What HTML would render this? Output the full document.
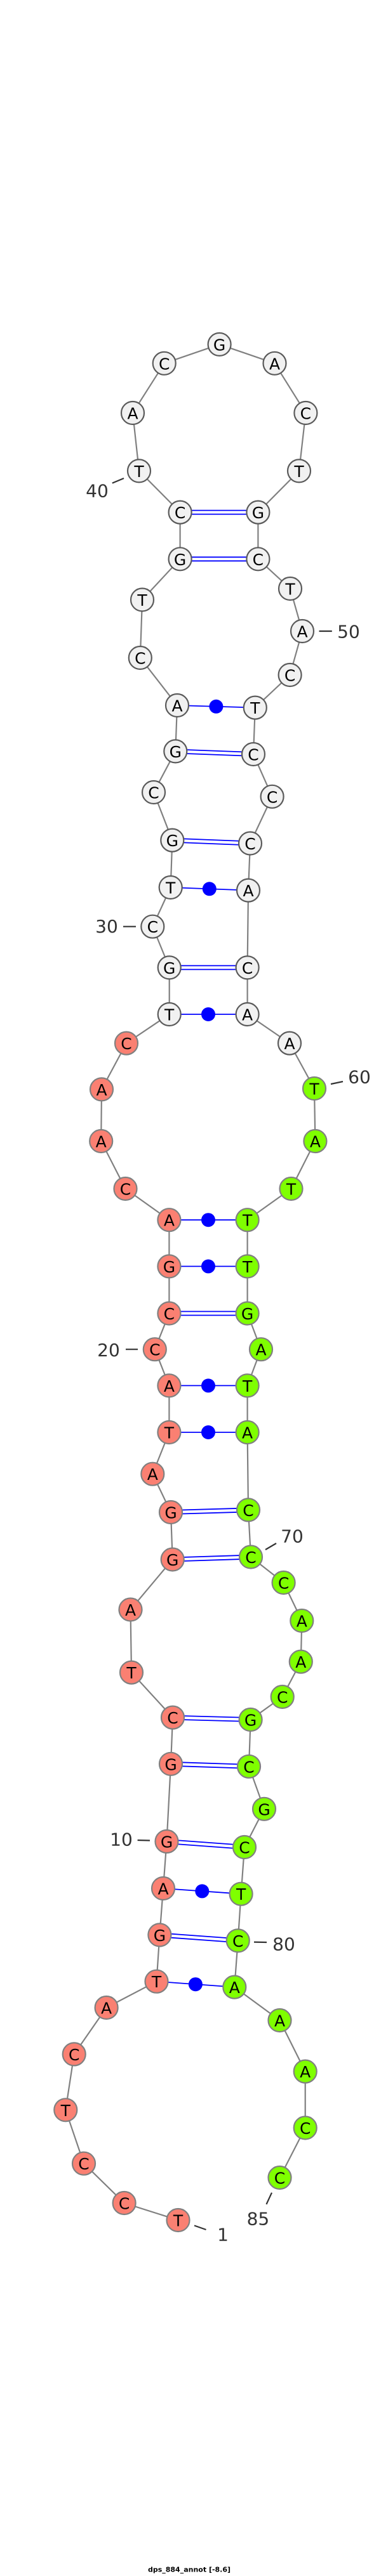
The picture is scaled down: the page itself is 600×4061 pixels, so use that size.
<!DOCTYPE html>
<html><head><meta charset="utf-8"><style>
html,body{margin:0;padding:0;background:#fff;}
svg{display:block;}
.n text{font-family:"DejaVu Sans","Liberation Sans",sans-serif;font-size:25px;text-anchor:middle;dominant-baseline:central;fill:#000;}
.w circle{fill:#f1f1f1;stroke:#5a5a5a;stroke-width:2.2;}
.r circle{fill:#fa8072;stroke:#808080;stroke-width:2.2;}
.g circle{fill:#7fff00;stroke:#808080;stroke-width:2.2;}
.lab{font-family:"DejaVu Sans","Liberation Sans",sans-serif;font-size:28px;fill:#333;text-anchor:middle;dominant-baseline:central;}
.tick{stroke:#333;stroke-width:2.2;}
.p{stroke:#0000ff;stroke-width:1.8;}
</style></head><body>
<svg width="600" height="4061" viewBox="0 0 600 4061" xmlns="http://www.w3.org/2000/svg">
<polyline fill="none" stroke="#808080" stroke-width="2.2" points="280.5,3500 195.6,3473 132,3410.7 103.3,3326.3 116.7,3238.4 167.6,3165 246.5,3123.7 251.4,3050.4 257,2977 262.5,2903 269,2780.8 272,2707.6 207,2636.6 205.5,2537.5 271.7,2458.5 269,2384 240.3,2323.7 266.4,2258 266.4,2184.4 243.8,2127.2 266.4,2070.5 266.4,1996.4 266.4,1923.2 197.5,1874 159.2,1799 160,1717.4 199,1644.6 266.7,1599 266.7,1525.4 240.3,1460.7 268.7,1399 271.3,1324.6 242,1249 276.3,1184.4 279,1112 220.8,1037 224,945.5 283.6,881.3 283.6,807.6 219,742.4 209,651 258.7,572.8 345.6,542.9 432.5,572.8 481.4,651 471,742.4 406.4,807.6 406.4,881.3 457,928 476,995 456.6,1064 401.8,1115.6 399,1189 428.6,1255.8 394,1329.5 391,1403.6 389.6,1525.4 389.6,1599 456,1644.6 495,1716 496.4,1799 458.5,1874 389.6,1923.2 389.6,1996.4 389.6,2070.5 411,2127.2 389.6,2184.4 389.6,2258 391,2380.4 395,2454.5 446.6,2495 475.3,2555 473.8,2619.6 444.7,2675 394.6,2711 392,2784.8 416,2851.8 385,2912 379.6,2985.7 374.7,3059.4 369.3,3132.6 440.5,3185 480.7,3265.6 480.7,3354.5 440.5,3433"/>
<!-- pairs: single with dot -->
<g class="p" fill="#0000ff">
<line x1="246.5" y1="3123.7" x2="369.3" y2="3132.6"/><circle cx="307.9" cy="3128.2" r="11" stroke="none"/>
<line x1="257" y1="2977" x2="379.6" y2="2985.7"/><circle cx="318.3" cy="2981.4" r="11" stroke="none"/>
<line x1="266.4" y1="2258" x2="389.6" y2="2258"/><circle cx="328" cy="2258" r="11" stroke="none"/>
<line x1="266.4" y1="2184.4" x2="389.6" y2="2184.4"/><circle cx="328" cy="2184.4" r="11" stroke="none"/>
<line x1="266.4" y1="1996.4" x2="389.6" y2="1996.4"/><circle cx="328" cy="1996.4" r="11" stroke="none"/>
<line x1="266.4" y1="1923.2" x2="389.6" y2="1923.2"/><circle cx="328" cy="1923.2" r="11" stroke="none"/>
<line x1="266.7" y1="1599" x2="389.6" y2="1599"/><circle cx="328" cy="1599" r="11" stroke="none"/>
<line x1="268.7" y1="1399" x2="391" y2="1403.6"/><circle cx="329.8" cy="1401.3" r="11" stroke="none"/>
<line x1="279" y1="1112" x2="401.8" y2="1115.6"/><circle cx="340.4" cy="1113.8" r="11" stroke="none"/>
</g>
<!-- pairs: double -->
<g class="p">
<line x1="251.4" y1="3047.4" x2="374.7" y2="3056.4"/><line x1="251.4" y1="3053.4" x2="374.7" y2="3062.4"/>
<line x1="262.5" y1="2900" x2="385" y2="2909"/><line x1="262.5" y1="2906" x2="385" y2="2915"/>
<line x1="269" y1="2777.8" x2="392" y2="2781.8"/><line x1="269" y1="2783.8" x2="392" y2="2787.8"/>
<line x1="272" y1="2704.6" x2="394.6" y2="2708"/><line x1="272" y1="2710.6" x2="394.6" y2="2714"/>
<line x1="271.7" y1="2455.5" x2="395" y2="2451.5"/><line x1="271.7" y1="2461.5" x2="395" y2="2457.5"/>
<line x1="269" y1="2381" x2="391" y2="2377.4"/><line x1="269" y1="2387" x2="391" y2="2383.4"/>
<line x1="266.4" y1="2067.5" x2="389.6" y2="2067.5"/><line x1="266.4" y1="2073.5" x2="389.6" y2="2073.5"/>
<line x1="266.7" y1="1522.4" x2="389.6" y2="1522.4"/><line x1="266.7" y1="1528.4" x2="389.6" y2="1528.4"/>
<line x1="271.3" y1="1321.6" x2="394" y2="1326.5"/><line x1="271.3" y1="1327.6" x2="394" y2="1332.5"/>
<line x1="276.3" y1="1181.4" x2="399" y2="1186"/><line x1="276.3" y1="1187.4" x2="399" y2="1192"/>
<line x1="283.6" y1="878.3" x2="406.4" y2="878.3"/><line x1="283.6" y1="884.3" x2="406.4" y2="884.3"/>
<line x1="283.6" y1="804.6" x2="406.4" y2="804.6"/><line x1="283.6" y1="810.6" x2="406.4" y2="810.6"/>
</g>
<!-- nodes -->
<g class="n r">
<g><circle cx="280.5" cy="3500" r="18"/><text x="280.5" y="3501">T</text></g>
<g><circle cx="195.6" cy="3473" r="18"/><text x="195.6" y="3474">C</text></g>
<g><circle cx="132" cy="3410.7" r="18"/><text x="132" y="3411.7">C</text></g>
<g><circle cx="103.3" cy="3326.3" r="18"/><text x="103.3" y="3327.3">T</text></g>
<g><circle cx="116.7" cy="3238.4" r="18"/><text x="116.7" y="3239.4">C</text></g>
<g><circle cx="167.6" cy="3165" r="18"/><text x="167.6" y="3166">A</text></g>
<g><circle cx="246.5" cy="3123.7" r="18"/><text x="246.5" y="3124.7">T</text></g>
<g><circle cx="251.4" cy="3050.4" r="18"/><text x="251.4" y="3051.4">G</text></g>
<g><circle cx="257" cy="2977" r="18"/><text x="257" y="2978">A</text></g>
<g><circle cx="262.5" cy="2903" r="18"/><text x="262.5" y="2904">G</text></g>
<g><circle cx="269" cy="2780.8" r="18"/><text x="269" y="2781.8">G</text></g>
<g><circle cx="272" cy="2707.6" r="18"/><text x="272" y="2708.6">C</text></g>
<g><circle cx="207" cy="2636.6" r="18"/><text x="207" y="2637.6">T</text></g>
<g><circle cx="205.5" cy="2537.5" r="18"/><text x="205.5" y="2538.5">A</text></g>
<g><circle cx="271.7" cy="2458.5" r="18"/><text x="271.7" y="2459.5">G</text></g>
<g><circle cx="269" cy="2384" r="18"/><text x="269" y="2385">G</text></g>
<g><circle cx="240.3" cy="2323.7" r="18"/><text x="240.3" y="2324.7">A</text></g>
<g><circle cx="266.4" cy="2258" r="18"/><text x="266.4" y="2259">T</text></g>
<g><circle cx="266.4" cy="2184.4" r="18"/><text x="266.4" y="2185.4">A</text></g>
<g><circle cx="243.8" cy="2127.2" r="18"/><text x="243.8" y="2128.2">C</text></g>
<g><circle cx="266.4" cy="2070.5" r="18"/><text x="266.4" y="2071.5">C</text></g>
<g><circle cx="266.4" cy="1996.4" r="18"/><text x="266.4" y="1997.4">G</text></g>
<g><circle cx="266.4" cy="1923.2" r="18"/><text x="266.4" y="1924.2">A</text></g>
<g><circle cx="197.5" cy="1874" r="18"/><text x="197.5" y="1875">C</text></g>
<g><circle cx="159.2" cy="1799" r="18"/><text x="159.2" y="1800">A</text></g>
<g><circle cx="160" cy="1717.4" r="18"/><text x="160" y="1718.4">A</text></g>
<g><circle cx="199" cy="1644.6" r="18"/><text x="199" y="1645.6">C</text></g>
</g>
<g class="n w">
<g><circle cx="266.7" cy="1599" r="18"/><text x="266.7" y="1600">T</text></g>
<g><circle cx="266.7" cy="1525.4" r="18"/><text x="266.7" y="1526.4">G</text></g>
<g><circle cx="240.3" cy="1460.7" r="18"/><text x="240.3" y="1461.7">C</text></g>
<g><circle cx="268.7" cy="1399" r="18"/><text x="268.7" y="1400">T</text></g>
<g><circle cx="271.3" cy="1324.6" r="18"/><text x="271.3" y="1325.6">G</text></g>
<g><circle cx="242" cy="1249" r="18"/><text x="242" y="1250">C</text></g>
<g><circle cx="276.3" cy="1184.4" r="18"/><text x="276.3" y="1185.4">G</text></g>
<g><circle cx="279" cy="1112" r="18"/><text x="279" y="1113">A</text></g>
<g><circle cx="220.8" cy="1037" r="18"/><text x="220.8" y="1038">C</text></g>
<g><circle cx="224" cy="945.5" r="18"/><text x="224" y="946.5">T</text></g>
<g><circle cx="283.6" cy="881.3" r="18"/><text x="283.6" y="882.3">G</text></g>
<g><circle cx="283.6" cy="807.6" r="18"/><text x="283.6" y="808.6">C</text></g>
<g><circle cx="219" cy="742.4" r="18"/><text x="219" y="743.4">T</text></g>
<g><circle cx="209" cy="651" r="18"/><text x="209" y="652">A</text></g>
<g><circle cx="258.7" cy="572.8" r="18"/><text x="258.7" y="573.8">C</text></g>
<g><circle cx="345.6" cy="542.9" r="18"/><text x="345.6" y="543.9">G</text></g>
<g><circle cx="432.5" cy="572.8" r="18"/><text x="432.5" y="573.8">A</text></g>
<g><circle cx="481.4" cy="651" r="18"/><text x="481.4" y="652">C</text></g>
<g><circle cx="471" cy="742.4" r="18"/><text x="471" y="743.4">T</text></g>
<g><circle cx="406.4" cy="807.6" r="18"/><text x="406.4" y="808.6">G</text></g>
<g><circle cx="406.4" cy="881.3" r="18"/><text x="406.4" y="882.3">C</text></g>
<g><circle cx="457" cy="928" r="18"/><text x="457" y="929">T</text></g>
<g><circle cx="476" cy="995" r="18"/><text x="476" y="996">A</text></g>
<g><circle cx="456.6" cy="1064" r="18"/><text x="456.6" y="1065">C</text></g>
<g><circle cx="401.8" cy="1115.6" r="18"/><text x="401.8" y="1116.6">T</text></g>
<g><circle cx="399" cy="1189" r="18"/><text x="399" y="1190">C</text></g>
<g><circle cx="428.6" cy="1255.8" r="18"/><text x="428.6" y="1256.8">C</text></g>
<g><circle cx="394" cy="1329.5" r="18"/><text x="394" y="1330.5">C</text></g>
<g><circle cx="391" cy="1403.6" r="18"/><text x="391" y="1404.6">A</text></g>
<g><circle cx="389.6" cy="1525.4" r="18"/><text x="389.6" y="1526.4">C</text></g>
<g><circle cx="389.6" cy="1599" r="18"/><text x="389.6" y="1600">A</text></g>
<g><circle cx="456" cy="1644.6" r="18"/><text x="456" y="1645.6">A</text></g>
</g>
<g class="n g">
<g><circle cx="495" cy="1716" r="18"/><text x="495" y="1717">T</text></g>
<g><circle cx="496.4" cy="1799" r="18"/><text x="496.4" y="1800">A</text></g>
<g><circle cx="458.5" cy="1874" r="18"/><text x="458.5" y="1875">T</text></g>
<g><circle cx="389.6" cy="1923.2" r="18"/><text x="389.6" y="1924.2">T</text></g>
<g><circle cx="389.6" cy="1996.4" r="18"/><text x="389.6" y="1997.4">T</text></g>
<g><circle cx="389.6" cy="2070.5" r="18"/><text x="389.6" y="2071.5">G</text></g>
<g><circle cx="411" cy="2127.2" r="18"/><text x="411" y="2128.2">A</text></g>
<g><circle cx="389.6" cy="2184.4" r="18"/><text x="389.6" y="2185.4">T</text></g>
<g><circle cx="389.6" cy="2258" r="18"/><text x="389.6" y="2259">A</text></g>
<g><circle cx="391" cy="2380.4" r="18"/><text x="391" y="2381.4">C</text></g>
<g><circle cx="395" cy="2454.5" r="18"/><text x="395" y="2455.5">C</text></g>
<g><circle cx="446.6" cy="2495" r="18"/><text x="446.6" y="2496">C</text></g>
<g><circle cx="475.3" cy="2555" r="18"/><text x="475.3" y="2556">A</text></g>
<g><circle cx="473.8" cy="2619.6" r="18"/><text x="473.8" y="2620.6">A</text></g>
<g><circle cx="444.7" cy="2675" r="18"/><text x="444.7" y="2676">C</text></g>
<g><circle cx="394.6" cy="2711" r="18"/><text x="394.6" y="2712">G</text></g>
<g><circle cx="392" cy="2784.8" r="18"/><text x="392" y="2785.8">C</text></g>
<g><circle cx="416" cy="2851.8" r="18"/><text x="416" y="2852.8">G</text></g>
<g><circle cx="385" cy="2912" r="18"/><text x="385" y="2913">C</text></g>
<g><circle cx="379.6" cy="2985.7" r="18"/><text x="379.6" y="2986.7">T</text></g>
<g><circle cx="374.7" cy="3059.4" r="18"/><text x="374.7" y="3060.4">C</text></g>
<g><circle cx="369.3" cy="3132.6" r="18"/><text x="369.3" y="3133.6">A</text></g>
<g><circle cx="440.5" cy="3185" r="18"/><text x="440.5" y="3186">A</text></g>
<g><circle cx="480.7" cy="3265.6" r="18"/><text x="480.7" y="3266.6">A</text></g>
<g><circle cx="480.7" cy="3354.5" r="18"/><text x="480.7" y="3355.5">C</text></g>
<g><circle cx="440.5" cy="3433" r="18"/><text x="440.5" y="3434">C</text></g>
</g>
<!-- labels -->
<line class="tick" x1="176.8" y1="761.6" x2="195" y2="754"/><text class="lab" x="153" y="774">40</text>
<line class="tick" x1="502.5" y1="995" x2="522.8" y2="995"/><text class="lab" x="549" y="996">50</text>
<line class="tick" x1="194" y1="1460.7" x2="214" y2="1460.7"/><text class="lab" x="168" y="1460.7">30</text>
<line class="tick" x1="521" y1="1709" x2="540" y2="1705"/><text class="lab" x="566" y="1698">60</text>
<line class="tick" x1="198" y1="2127.2" x2="217" y2="2127.2"/><text class="lab" x="171" y="2128.6">20</text>
<line class="tick" x1="418" y1="2443" x2="435" y2="2433"/><text class="lab" x="460" y="2422">70</text>
<line class="tick" x1="216.6" y1="2901" x2="236" y2="2901.5"/><text class="lab" x="191" y="2900">10</text>
<line class="tick" x1="400" y1="3061.6" x2="420" y2="3062"/><text class="lab" x="447" y="3065">80</text>
<line class="tick" x1="428" y1="3456.7" x2="419.5" y2="3475"/><text class="lab" x="406.4" y="3498">85</text>
<line class="tick" x1="306" y1="3508.5" x2="324.5" y2="3515"/><text class="lab" x="351" y="3523">1</text>
<text x="298" y="4051" font-family="'DejaVu Sans','Liberation Sans',sans-serif" font-size="11" font-weight="bold" text-anchor="middle" dominant-baseline="central" fill="#000">dps_884_annot [-8.6]</text>
</svg>
</body></html>
